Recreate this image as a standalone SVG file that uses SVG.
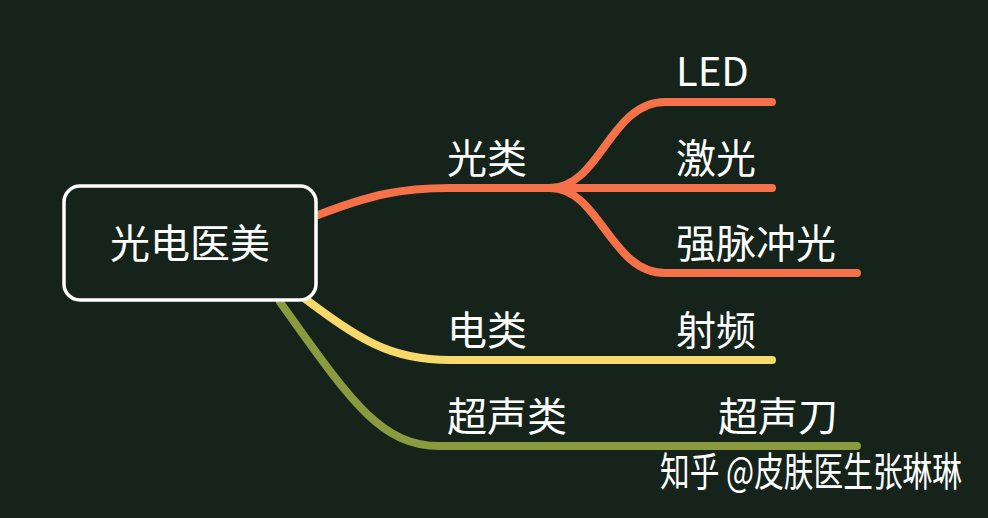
<svg xmlns="http://www.w3.org/2000/svg" width="988" height="518" viewBox="0 0 988 518">
<style>
.t{font-family:"Noto Sans CJK SC","Liberation Sans",sans-serif;fill:#fff;font-size:40px}
.c{fill:none;stroke-width:8;stroke-linecap:round}
.o{stroke:#f4714a}.y{stroke:#f7d86a}.g{stroke:#8a9a3f}
</style>
<rect width="988" height="518" fill="#15231a"/>
<g id="connectors">
<path class="c o" d="M318,215 C370,195 400,188 450,188 L550,188"/>
<path class="c o" d="M550,188 C600,188 610,102 665,102 L772,102"/>
<path class="c o" d="M550,188 L772,188"/>
<path class="c o" d="M550,188 C600,188 610,273 665,273 L857,273"/>
<path class="c y" d="M300,295 C360,340 390,360 450,360 L772,360"/>
<path class="c g" d="M280,302 C350,400 380,446 440,446 L857,446"/>
</g>
<g id="root"><rect x="64" y="186" width="252" height="114" rx="16" fill="#15231a" stroke="#fff" stroke-width="3.5"/><text class="t" x="190" y="258" text-anchor="middle" font-size="43">光电医美</text></g>
<g id="n1"><text class="t" x="447" y="173">光类</text></g>
<g id="n2"><text class="t" x="676" y="86">LED</text></g>
<g id="n3"><text class="t" x="676" y="173">激光</text></g>
<g id="n4"><text class="t" x="676" y="258">强脉冲光</text></g>
<g id="n5"><text class="t" x="447" y="345">电类</text></g>
<g id="n6"><text class="t" x="676" y="345">射频</text></g>
<g id="n7"><text class="t" x="447" y="431">超声类</text></g>
<g id="n8"><text class="t" x="718" y="431">超声刀</text></g>
<text class="t" x="660" y="486" font-size="26" textLength="302" lengthAdjust="spacingAndGlyphs">知乎 @皮肤医生张琳琳</text>
</svg>
